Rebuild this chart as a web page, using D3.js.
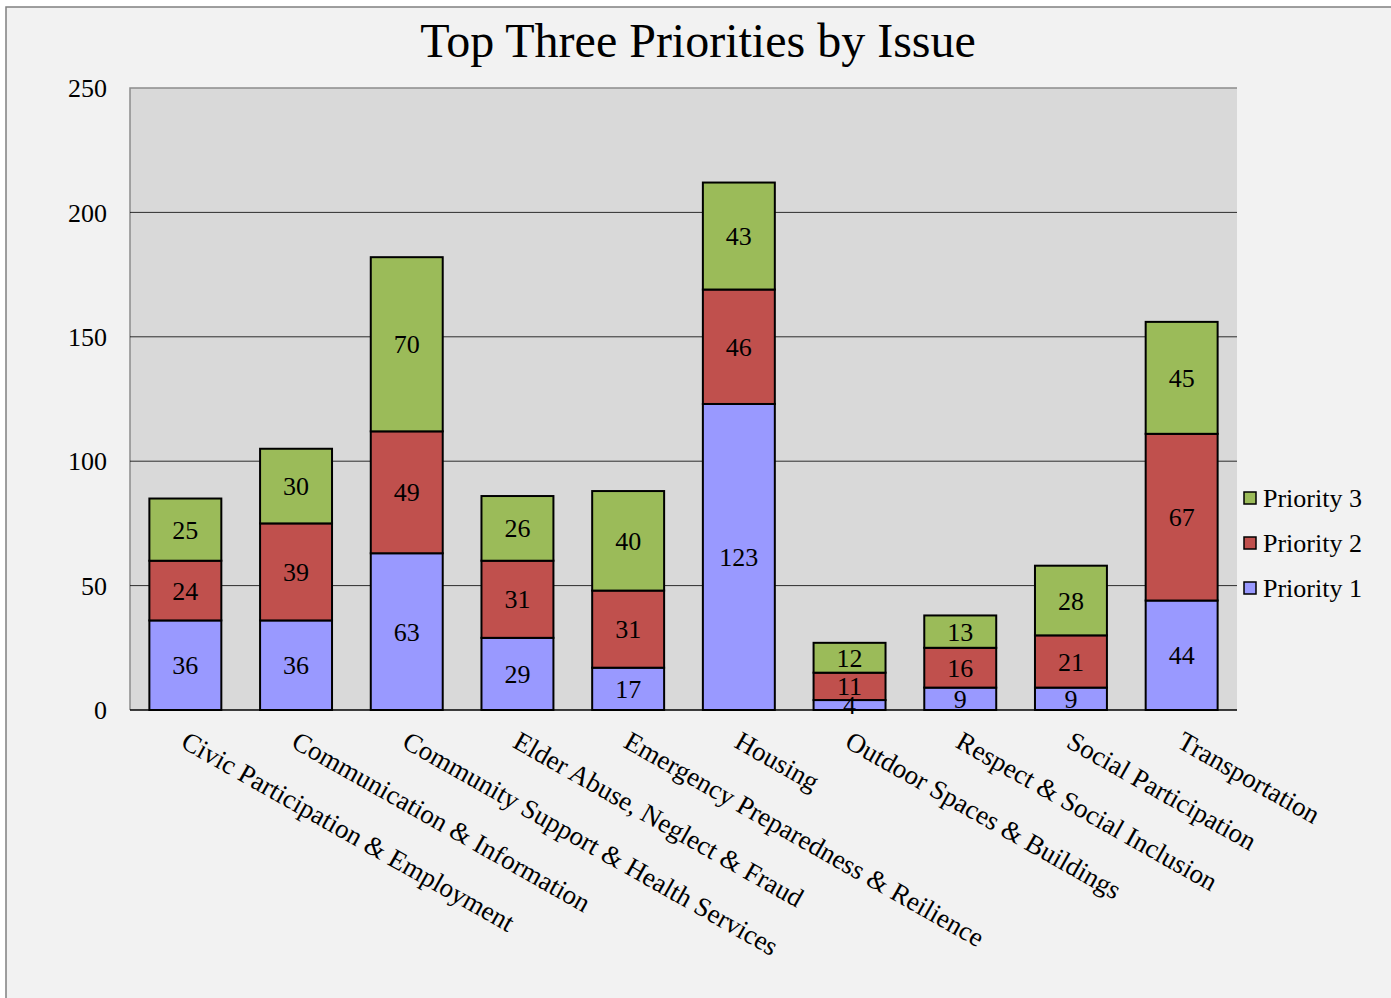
<!DOCTYPE html>
<html lang="en">
<head>
    <meta charset="UTF-8">
    <title>Top Three Priorities by Issue</title>
</head>
<style>
    body { margin: 0; background: #fff; }
    text { font-family: "Liberation Serif", "Times New Roman", serif; fill: #000; }
</style>
<body>
<script src="https://d3js.org/d3.v7.min.js"></script>
<script>
    const width = 1391, height = 998;

    const categories = ["Civic Participation & Employment", "Communication & Information",
        "Community Support & Health Services", "Elder Abuse, Neglect & Fraud",
        "Emergency Preparedness & Reilience", "Housing", "Outdoor Spaces & Buildings",
        "Respect & Social Inclusion", "Social Participation", "Transportation"];
    const priority1 = [36, 36, 63, 29, 17, 123, 4, 9, 9, 44];
    const priority2 = [24, 39, 49, 31, 31, 46, 11, 16, 21, 67];
    const priority3 = [25, 30, 70, 26, 40, 43, 12, 13, 28, 45];
    const seriesNames = ["Priority 1", "Priority 2", "Priority 3"];
    const yTicks = [0, 50, 100, 150, 200, 250];

    const colors = {"Priority 1": "#9999ff", "Priority 2": "#c0504d", "Priority 3": "#9bbb59"};

    const plot = {left: 130, right: 1237, top: 88, bottom: 710};
    const fs = "26px";

    const svg = d3.select("body").append("svg")
        .attr("width", width)
        .attr("height", height);

    // chart background + frame
    svg.append("rect").attr("x", 6).attr("y", 7).attr("width", width).attr("height", height)
        .attr("fill", "#f2f2f2").attr("stroke", "#808080").attr("stroke-width", 1.5);

    svg.append("text")
        .attr("x", 698).attr("y", 57)
        .attr("text-anchor", "middle")
        .style("font-size", "48px")
        .text("Top Three Priorities by Issue");

    const x = d3.scaleBand().domain(categories)
        .range([plot.left, plot.right])
        .paddingInner(0.35).paddingOuter(0.175);
    const y = d3.scaleLinear().domain([0, 250]).range([plot.bottom, plot.top]);

    // plot area
    svg.append("rect")
        .attr("x", plot.left).attr("y", plot.top)
        .attr("width", plot.right - plot.left).attr("height", plot.bottom - plot.top)
        .attr("fill", "#d9d9d9");
    svg.append("path")
        .attr("d", `M${plot.left},${plot.bottom}V${plot.top}H${plot.right}`)
        .attr("fill", "none").attr("stroke", "#8c8c8c").attr("stroke-width", 1.5);

    // gridlines
    svg.append("g").selectAll("line")
        .data(yTicks.filter(t => t > 0 && t < 250))
        .enter().append("line")
        .attr("x1", plot.left).attr("x2", plot.right)
        .attr("y1", d => y(d)).attr("y2", d => y(d))
        .attr("stroke", "#000").attr("stroke-width", 0.8);

    // y tick labels
    svg.append("g").selectAll("text")
        .data(yTicks)
        .enter().append("text")
        .attr("x", 107).attr("y", d => y(d))
        .attr("dy", "0.35em")
        .attr("text-anchor", "end")
        .style("font-size", fs)
        .text(d => d);

    // stacked data
    const rows = categories.map((c, i) => ({
        cat: c,
        "Priority 1": priority1[i],
        "Priority 2": priority2[i],
        "Priority 3": priority3[i]
    }));
    const stack = d3.stack().keys(seriesNames)(rows);

    const layers = svg.append("g").selectAll("g")
        .data(stack)
        .enter().append("g")
        .attr("fill", d => colors[d.key]);

    layers.selectAll("rect")
        .data(d => d)
        .enter().append("rect")
        .attr("x", d => x(d.data.cat))
        .attr("width", x.bandwidth())
        .attr("y", d => y(d[1]))
        .attr("height", d => y(d[0]) - y(d[1]))
        .attr("stroke", "#000")
        .attr("stroke-width", 2);

    // value labels
    stack.forEach(function (layer) {
        svg.append("g").selectAll("text")
            .data(layer)
            .enter().append("text")
            .attr("x", d => x(d.data.cat) + x.bandwidth() / 2)
            .attr("y", d => (y(d[0]) + y(d[1])) / 2)
            .attr("dy", "0.35em")
            .attr("text-anchor", "middle")
            .style("font-size", fs)
            .text(d => d[1] - d[0]);
    });

    // x axis line
    svg.append("line")
        .attr("x1", plot.left).attr("x2", plot.right)
        .attr("y1", plot.bottom).attr("y2", plot.bottom)
        .attr("stroke", "#000").attr("stroke-width", 1.5);

    // category labels, rotated
    svg.append("g").selectAll("text")
        .data(categories)
        .enter().append("text")
        .attr("transform", d => `translate(${x(d) + x.bandwidth() / 2 + 4},${plot.bottom + 19}) rotate(29.5)`)
        .attr("dy", "0.75em")
        .attr("text-anchor", "start")
        .style("font-size", "27px")
        .text(d => d);

    // legend
    const legend = svg.append("g").selectAll("g")
        .data(seriesNames.slice().reverse())
        .enter().append("g")
        .attr("transform", (d, i) => `translate(1244,${498 + i * 45})`);
    legend.append("rect")
        .attr("x", 0).attr("y", -6)
        .attr("width", 12).attr("height", 12)
        .attr("fill", d => colors[d])
        .attr("stroke", "#000").attr("stroke-width", 1.5);
    legend.append("text")
        .attr("x", 19).attr("y", 0)
        .attr("dy", "0.35em")
        .style("font-size", fs)
        .text(d => d);
</script>
</body>
</html>
